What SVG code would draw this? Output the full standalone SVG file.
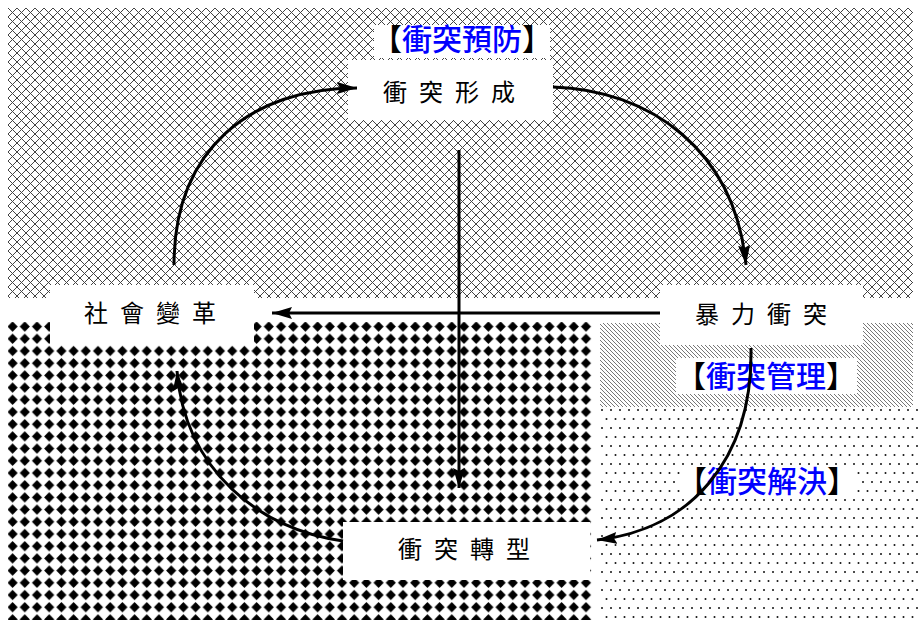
<svg xmlns="http://www.w3.org/2000/svg" width="919" height="620" viewBox="0 0 919 620">
<style>
.box{fill:#ffffff;}
.node{font-family:"Noto Sans CJK TC","Noto Sans CJK SC",sans-serif;font-size:24px;fill:#000;letter-spacing:12px;}
.lab{font-family:"Noto Sans CJK TC","Noto Sans CJK SC",sans-serif;font-size:30px;font-weight:500;fill:#0000ff;text-anchor:middle;}
.br{fill:#000;}
.con{fill:none;stroke:#000;stroke-width:3;marker-end:url(#ah);}
</style>
<defs>
<pattern id="cross" patternUnits="userSpaceOnUse" x="8" y="8" width="9" height="9">
<path d="M0,0 L9,9 M9,0 L0,9" stroke="#444" stroke-width="1" fill="none"/>
</pattern>
<pattern id="diam" patternUnits="userSpaceOnUse" x="6.5" y="320.5" width="12.2" height="12.2">
<polygon points="6.1,1 11.2,6.1 6.1,11.2 1,6.1" fill="#000"/>
</pattern>
<pattern id="hatch" patternUnits="userSpaceOnUse" x="0" y="0" width="4" height="4">
<path d="M0,0 L4,4 M-1,3 L1,5 M3,-1 L5,1" stroke="#777" stroke-width="1" fill="none"/>
</pattern>
<pattern id="dots" patternUnits="userSpaceOnUse" x="600" y="408" width="9" height="18">
<circle cx="2" cy="2" r="1" fill="#111"/>
<circle cx="6.5" cy="11" r="1" fill="#111"/>
</pattern>
<marker id="ah" markerUnits="userSpaceOnUse" markerWidth="22" markerHeight="14" refX="20" refY="6" orient="auto">
<path d="M0,0 L20,6 L0,12 L3,6 Z" fill="#000"/>
</marker>
</defs>
<rect x="0" y="0" width="919" height="620" fill="#fff"/>
<g id="regions">
<rect x="8" y="8" width="905" height="290" fill="url(#cross)"/>
<rect x="8" y="322" width="585" height="298" fill="url(#diam)"/>
<rect x="600" y="323" width="313" height="84" fill="url(#hatch)"/>
<rect x="600" y="407" width="319" height="213" fill="url(#dots)"/>
</g>
<g id="node-formation">
<rect class="box" x="348" y="60" width="205" height="60"/>
<text class="node" x="383" y="101">衝突形成</text>
</g>
<g id="node-social-change">
<rect class="box" x="50" y="285" width="204" height="60"/>
<text class="node" x="84" y="322">社會變革</text>
</g>
<g id="node-violence">
<rect class="box" x="660" y="285" width="203" height="60"/>
<text class="node" x="695" y="323">暴力衝突</text>
</g>
<g id="node-transformation">
<rect class="box" x="343" y="522" width="247" height="58"/>
<text class="node" x="398" y="558">衝突轉型</text>
</g>
<g id="label-prevention">
<rect class="box" x="374" y="25" width="176" height="33"/>
<text class="lab" x="462" y="50"><tspan class="br">【</tspan>衝突預防<tspan class="br">】</tspan></text>
</g>
<g id="label-management">
<rect class="box" x="676" y="358" width="181" height="36"/>
<text class="lab" x="766" y="387"><tspan class="br">【</tspan>衝突管理<tspan class="br">】</tspan></text>
</g>
<g id="label-resolution">
<rect class="box" x="680" y="466" width="176" height="31"/>
<text class="lab" x="767" y="492"><tspan class="br">【</tspan>衝突解決<tspan class="br">】</tspan></text>
</g>
<g id="connectors">
<path class="con" d="M174,265 C174,150 250,88 357,88"/>
<path class="con" d="M553,87 C650,90 735,150 746,265"/>
<path class="con" d="M660,313 L272,313"/>
<path class="con" d="M459,150 L459,488"/>
<path class="con" d="M751,348 C753,460 690,530 597,540"/>
<path class="con" d="M343,541 C260,530 185,470 177,371"/>
</g>
</svg>
